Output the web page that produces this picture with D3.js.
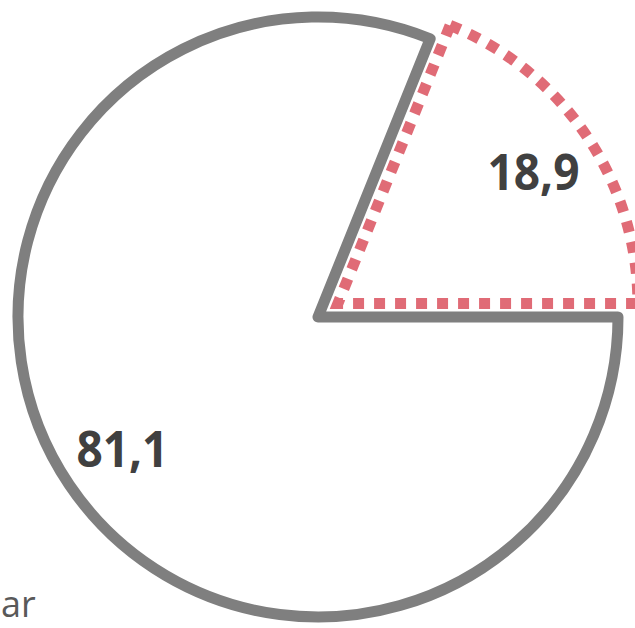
<!DOCTYPE html>
<html>
<head>
<meta charset="utf-8">
<script src="https://cdn.jsdelivr.net/npm/d3@7"></script>
<style>
  html, body { margin: 0; padding: 0; background: #ffffff; }
  svg { display: block; }
</style>
</head>
<body>
<svg id="chart" width="635" height="628"></svg>
<script>
// ---- data ----
const values = [81.1, 18.9];
const sliceLabels = ["81,1", "18,9"];
const exploded = [false, true];
const legendText = ["ar"];

// ---- layout ----
const W = 635, H = 628;
const cx = 318, cy = 317, R = 300;
const explodeDist = 24;
const labelR = 236;

const svg = d3.select("#chart");
svg.append("rect").attr("width", W).attr("height", H).attr("fill", "#ffffff");

const pie = d3.pie().sort(null)
  .startAngle(Math.PI / 2)
  .endAngle(Math.PI / 2 + 2 * Math.PI);
const arcs = pie(values);

const arc = d3.arc().innerRadius(0).outerRadius(R);
const labelArc = d3.arc().innerRadius(labelR).outerRadius(labelR);

const g = svg.append("g").attr("transform", `translate(${cx},${cy})`);

const slices = g.selectAll("g.slice").data(arcs).enter().append("g")
  .attr("class", "slice")
  .attr("transform", (d, i) => {
    if (!exploded[i]) return null;
    const a = (d.startAngle + d.endAngle) / 2;
    return `translate(${explodeDist * Math.sin(a)},${-explodeDist * Math.cos(a)})`;
  });

slices.append("path")
  .attr("d", arc)
  .attr("fill", "#ffffff")
  .attr("stroke", (d, i) => exploded[i] ? "#E06B76" : "#7F7F7F")
  .attr("stroke-width", 11)
  .attr("stroke-linejoin", (d, i) => exploded[i] ? "miter" : "round")
  .attr("stroke-dasharray", (d, i) => exploded[i] ? "11 10" : null);

slices.append("text")
  .attr("transform", d => `translate(${labelArc.centroid(d)})`)
  .attr("text-anchor", "middle")
  .attr("dy", "0.36em")
  .attr("font-family", "'Open Sans', sans-serif")
  .attr("font-weight", 700)
  .attr("font-size", 50)
  .attr("textLength", 92)
  .attr("lengthAdjust", "spacingAndGlyphs")
  .attr("fill", "#404040")
  .text((d, i) => sliceLabels[i]);

// legend text at bottom-left
svg.selectAll("text.legend").data(legendText).enter().append("text")
  .attr("class", "legend")
  .attr("x", 1)
  .attr("y", 617)
  .attr("text-anchor", "start")
  .attr("font-family", "'Open Sans', sans-serif")
  .attr("font-size", 36)
  .attr("fill", "#595959")
  .text(d => d);
</script>
</body>
</html>
